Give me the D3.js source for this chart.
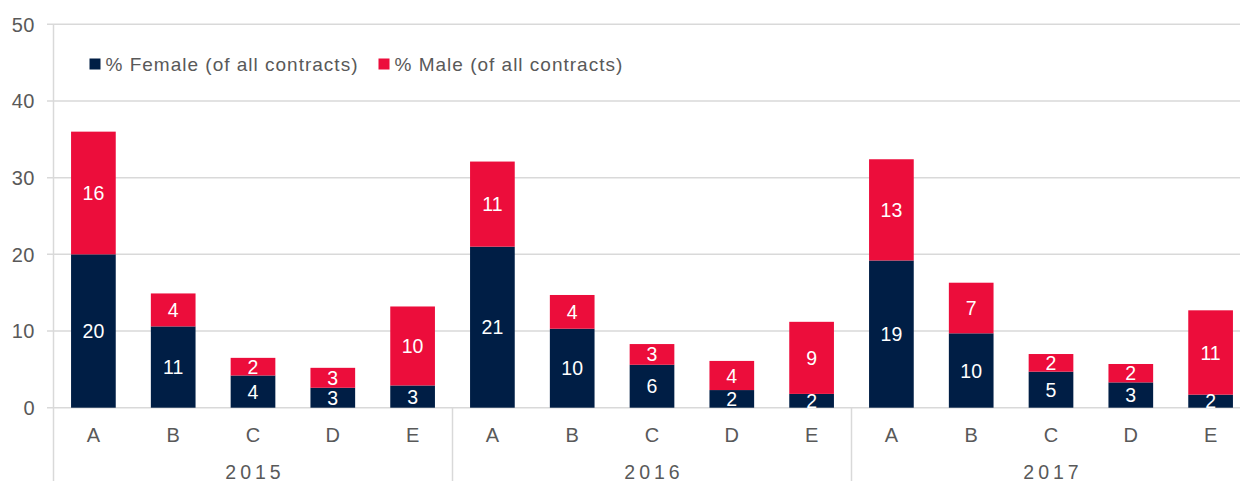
<!DOCTYPE html>
<html>
<head>
<meta charset="utf-8">
<script src="https://cdn.jsdelivr.net/npm/d3@7/dist/d3.min.js"></script>
<style>
  html, body { margin: 0; padding: 0; background: #ffffff; }
  svg { display: block; font-family: "Liberation Sans", Arial, sans-serif; }
</style>
</head>
<body>
<svg id="chart" width="1240" height="481"></svg>
<script>
const years = ["2015", "2016", "2017"];
const categories = ["A", "B", "C", "D", "E"];
const female = [20.0, 10.6, 4.2, 2.6, 2.9, 21.0, 10.3, 5.6, 2.3, 1.8, 19.2, 9.7, 4.7, 3.3, 1.7];
const male = [16.0, 4.3, 2.3, 2.6, 10.3, 11.1, 4.4, 2.7, 3.8, 9.4, 13.2, 6.6, 2.3, 2.4, 11.0];
const yTicks = [0, 10, 20, 30, 40, 50];
const seriesNames = ["% Female (of all contracts)", "% Male (of all contracts)"];

(function () {
const colors = { female: "#001e45", male: "#ec0d3b", grid: "#d9d9d9", text: "#595959" };

const svg = d3.select("#chart");
const W = 1240, H = 481;
const plotLeft = 53.5, plotRight = 1250.5, plotTop = 24.3, plotBottom = 407.7;

const rows = [];
years.forEach((yr, gi) => categories.forEach((c, ci) => {
  const i = gi * categories.length + ci;
  rows.push({ key: yr + "-" + c, year: yr, cat: c, female: female[i], male: male[i] });
}));

const x = d3.scaleBand().domain(rows.map(d => d.key)).range([plotLeft, plotRight])
  .paddingInner(0.44).paddingOuter(0.22);
const y = d3.scaleLinear().domain([0, 50]).range([plotBottom, plotTop]);

// gridlines
svg.append("g").selectAll("line").data(yTicks).join("line")
  .attr("x1", 47).attr("x2", W)
  .attr("y1", d => y(d)).attr("y2", d => y(d))
  .attr("stroke", colors.grid).attr("stroke-width", 1.5);

// y axis line
svg.append("line").attr("x1", plotLeft).attr("x2", plotLeft).attr("y1", plotTop).attr("y2", H)
  .attr("stroke", colors.grid).attr("stroke-width", 1.5);

// group separators
const step = x.step();
const groupEdges = years.map((yr, gi) => plotLeft + gi * categories.length * step).slice(1);
svg.append("g").selectAll("line").data(groupEdges).join("line")
  .attr("x1", d => d).attr("x2", d => d).attr("y1", plotBottom).attr("y2", H)
  .attr("stroke", colors.grid).attr("stroke-width", 1.5);

// y tick labels
svg.append("g").selectAll("text").data(yTicks).join("text")
  .attr("x", 35).attr("y", d => y(d)).attr("dy", "0.36em")
  .attr("text-anchor", "end").attr("fill", colors.text)
  .style("font-size", "20px").style("letter-spacing", "0.5px")
  .text(d => d);

// stacked bars
const stacked = d3.stack().keys(["female", "male"])(rows);
const segG = svg.append("g");
stacked.forEach(layer => {
  segG.append("g").selectAll("rect").data(layer).join("rect")
    .attr("x", d => x(d.data.key))
    .attr("width", x.bandwidth())
    .attr("y", d => y(d[1]))
    .attr("height", d => y(d[0]) - y(d[1]))
    .attr("fill", colors[layer.key]);
});

// bar labels
const fmt = d3.format(".0f");
stacked.forEach(layer => {
  svg.append("g").selectAll("text").data(layer).join("text")
    .attr("x", d => x(d.data.key) + x.bandwidth() / 2)
    .attr("y", d => (y(d[0]) + y(d[1])) / 2)
    .attr("dy", "0.36em")
    .attr("text-anchor", "middle").attr("fill", "#ffffff")
    .style("font-size", "19.5px")
    .text(d => fmt(d.data[layer.key]));
});

// category labels
svg.append("g").selectAll("text").data(rows).join("text")
  .attr("x", d => x(d.key) + x.bandwidth() / 2)
  .attr("y", 442)
  .attr("text-anchor", "middle").attr("fill", colors.text)
  .style("font-size", "20px")
  .text(d => d.cat);

// year labels
svg.append("g").selectAll("text").data(years).join("text")
  .attr("x", (d, gi) => plotLeft + (gi + 0.5) * categories.length * step + 2)
  .attr("y", 478.5)
  .attr("text-anchor", "middle").attr("fill", colors.text)
  .style("font-size", "19.5px").style("letter-spacing", "4px")
  .text(d => d);

// legend
const legendItems = [
  { name: seriesNames[0], color: colors.female, x: 89.5 },
  { name: seriesNames[1], color: colors.male, x: 378.5 }
];
const lg = svg.append("g").selectAll("g").data(legendItems).join("g")
  .attr("transform", d => `translate(${d.x},0)`);
lg.append("rect").attr("x", 0).attr("y", 58.5).attr("width", 11).attr("height", 11)
  .attr("fill", d => d.color);
lg.append("text").attr("x", 16).attr("y", 71)
  .attr("fill", colors.text).style("font-size", "19px").style("letter-spacing", "1px")
  .text(d => d.name);
})();
</script>
</body>
</html>
